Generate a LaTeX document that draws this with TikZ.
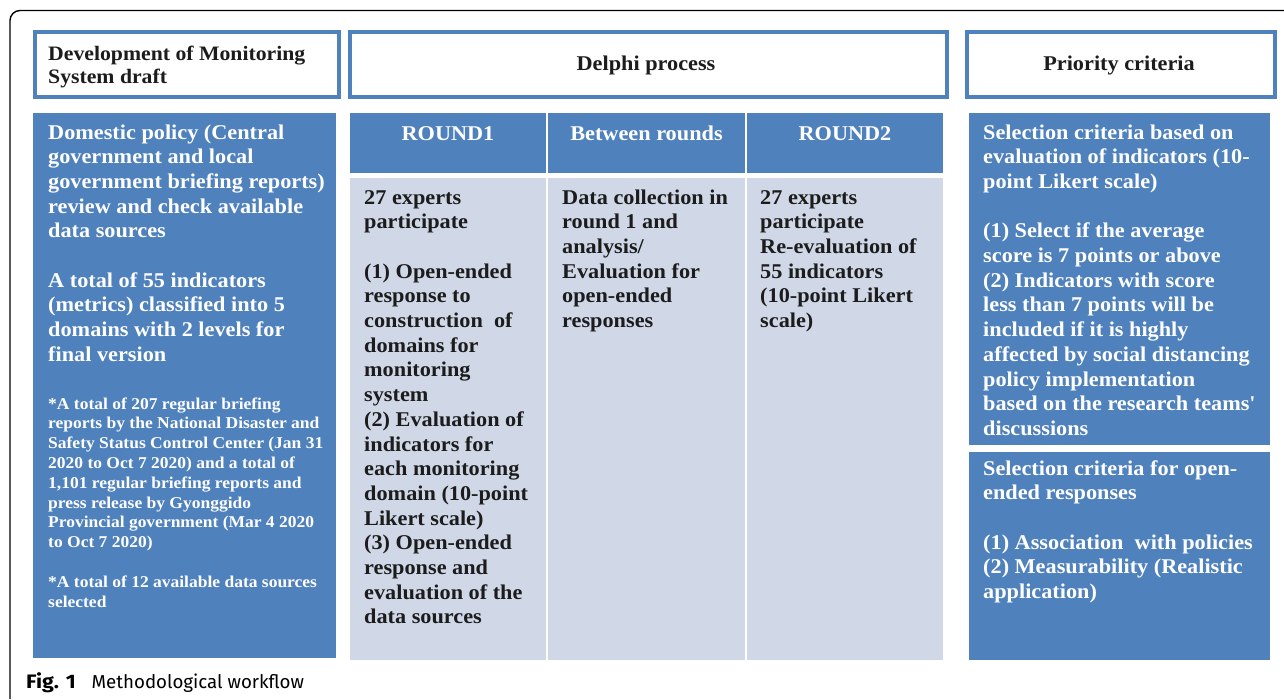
\documentclass[tikz,border=0pt]{standalone}
\usepackage{fontspec}
\newfontfamily\cam[FakeStretch=1.06]{Liberation Serif}
\newfontfamily\capfont{Fira Sans}
\newfontfamily\capbold[FakeStretch=1.1]{Fira Sans}
\definecolor{ofblue}{HTML}{4F81BD}
\definecolor{cellfill}{HTML}{D0D8E8}
\definecolor{ink}{HTML}{1C1C1C}
\newcommand\tblock[1]{\parbox[t]{330pt}{\raggedright #1}}
\tikzset{
  hdrbox/.style={draw=ofblue, line width=3.5pt, fill=white, inner sep=0pt, anchor=north west},
  bluebox/.style={fill=ofblue, inner sep=0pt, anchor=north west},
  cellbox/.style={fill=cellfill, inner sep=0pt, anchor=north west},
  bigtxt/.style={font=\cam\bfseries\fontsize{21}{24.7}\selectfont, inner sep=0pt, anchor=base west},
  smalltxt/.style={font=\cam\bfseries\fontsize{16.5}{19.8}\selectfont, inner sep=0pt, anchor=base west},
  wtxt/.style={bigtxt, text=white},
  dtxt/.style={bigtxt, text=ink},
}
\begin{document}
\begin{tikzpicture}[x=1pt,y=-1pt]
\useasboundingbox (0,0) rectangle (1284,699);
% outer frame
\draw[line width=1.4pt, rounded corners=10pt] (10,699) -- (10,10.5) -- (1284,10.5);
% header boxes
\node[hdrbox, minimum width=304pt, minimum height=65pt] (h1) at (33,30) {};
\node[hdrbox, minimum width=597pt, minimum height=65pt] (h2) at (348,30) {};
\node[hdrbox, minimum width=308pt, minimum height=65pt] (h3) at (965,30) {};
\node[dtxt, font=\cam\bfseries\fontsize{20.5}{23}\selectfont] (h1t) at (48,60) {\tblock{Development of Monitoring\\System draft}};
\node[dtxt, anchor=base] (h2t) at (646,70) {Delphi process};
\node[dtxt, anchor=base] (h3t) at (1119,70) {Priority criteria};
% left column
\node[bluebox, minimum width=303pt, minimum height=545pt] (left) at (33,113) {};
\node[wtxt] (leftt) at (48,139) {\tblock{Domestic policy (Central\\
government and local\\
government briefing reports)\\
review and check available\\
data sources\\[24.7pt]
A total of 55 indicators\\
(metrics) classified into 5\\
domains with 2 levels for\\
final version}};
\node[smalltxt, text=white] (lefts) at (48,409) {\tblock{*A total of 207 regular briefing\\
reports by the National Disaster and\\
Safety Status Control Center (Jan 31\\
2020 to Oct 7 2020) and a total of\\
1,101 regular briefing reports and\\
press release by Gyonggido\\
Provincial government (Mar 4 2020\\
to Oct 7 2020)\\[19.8pt]
*A total of 12 available data sources\\
selected}};
% Delphi columns
\node[bluebox, minimum width=196pt, minimum height=60pt] (r1h) at (350,113) {};
\node[bluebox, minimum width=197pt, minimum height=60pt] (brh) at (548,113) {};
\node[bluebox, minimum width=196pt, minimum height=60pt] (r2h) at (747,113) {};
\node[wtxt, anchor=base] (r1ht) at (448,140) {ROUND1};
\node[wtxt, anchor=base] (brht) at (646.5,140) {Between rounds};
\node[wtxt, anchor=base] (r2ht) at (845,140) {ROUND2};
\node[cellbox, minimum width=196pt, minimum height=482pt] (r1b) at (350,178) {};
\node[cellbox, minimum width=197pt, minimum height=482pt] (brb) at (548,178) {};
\node[cellbox, minimum width=196pt, minimum height=482pt] (r2b) at (747,178) {};
\node[dtxt] (r1bt) at (364,204) {\tblock{27 experts\\
participate\\[24.7pt]
(1) Open-ended\\
response to\\
construction\ \ of\\
domains for\\
monitoring\\
system\\
(2) Evaluation of\\
indicators for\\
each monitoring\\
domain (10-point\\
Likert scale)\\
(3) Open-ended\\
response and\\
evaluation of the\\
data sources}};
\node[dtxt] (brbt) at (562,204) {\tblock{Data collection in\\
round 1 and\\
analysis/\\
Evaluation for\\
open-ended\\
responses}};
\node[dtxt] (r2bt) at (760,204) {\tblock{27 experts\\
participate\\
Re-evaluation of\\
55 indicators\\
(10-point Likert\\
scale)}};
% right column
\node[bluebox, minimum width=301pt, minimum height=332pt] (rt) at (969,113) {};
\node[bluebox, minimum width=301pt, minimum height=208pt] (rb) at (969,452) {};
\node[wtxt] (rtt) at (983,139) {\tblock{Selection criteria based on\\
evaluation of indicators (10-\\
point Likert scale)\\[24.7pt]
(1) Select if the average\\
score is 7 points or above\\
(2) Indicators with score\\
less than 7 points will be\\
included if it is highly\\
affected by social distancing\\
policy implementation\\
based on the research teams'\\
discussions}};
\node[wtxt] (rbt) at (983,475) {\tblock{Selection criteria for open-\\
ended responses\\[24.7pt]
(1) Association\ \ with policies\\
(2) Measurability (Realistic\\
application)}};
% caption
\node[anchor=base west, inner sep=0pt, font=\capfont\fontsize{18.7}{22}\selectfont] (cap) at (26,688) {{\capbold\bfseries\fontsize{19.5}{22}\selectfont Fig. 1}\hspace{0.85em}Methodological workflow};
\end{tikzpicture}
\end{document}
